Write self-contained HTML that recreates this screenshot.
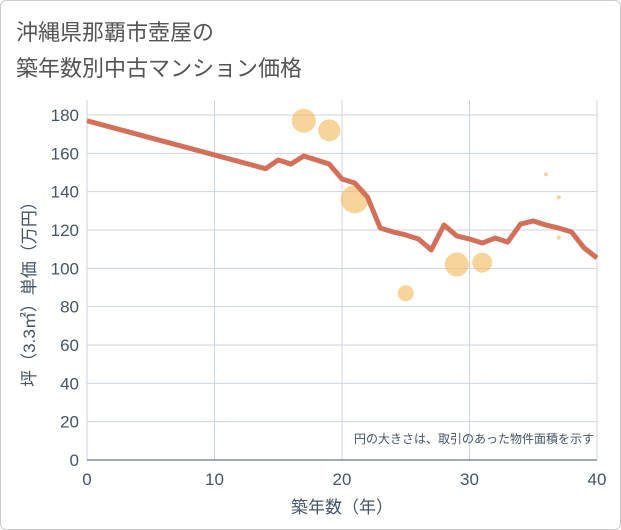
<!DOCTYPE html>
<html><head><meta charset="utf-8"><style>
body{margin:0;background:#fff;font-family:"Liberation Sans","Noto Sans CJK JP",sans-serif}
#wrap{position:relative;width:619px;height:528px;border:1px solid #ccc;border-radius:6px;overflow:hidden}
.title{position:absolute;left:15px;font-size:22px;color:#555}
</style></head><body>
<div id="wrap">
<div class="title" style="top:14px">沖縄県那覇市壺屋の</div>
<div class="title" style="top:50px">築年数別中古マンション価格</div>
<svg id="chart" width="621" height="530" style="position:absolute;left:-1px;top:-1px"></svg>
</div>
<script>
const lineYears=[0,14,15,16,17,18,19,20,21,22,23,24,25,26,27,28,29,30,31,32,33,34,35,36,37,38,39,40];
const linePrices=[177,152,156.5,154.4,158.6,156.5,154.4,146.6,144.5,137.2,121,119,117.4,115.3,109.6,122.6,116.9,115.3,113.2,115.8,113.7,123.1,124.7,122.6,121,119,110.6,105.4];
const bubbleYears=[17,19,21,25,29,31,36,37,37];
const bubblePrices=[177,172,136,87,102,103,149,137,116];
const bubbleSizes=[12,11,14,8,12,10,2,2,2];
const xTicks=[0,10,20,30,40];
const yTicks=[0,20,40,60,80,100,120,140,160,180];
const NS='http://www.w3.org/2000/svg';
const svg=document.getElementById('chart');
const X0=87,X1=597,Y0=460,Y1=115;
const xs=v=>X0+(v-0)/40*(X1-X0);
const ys=v=>Y0-(v/180)*(Y0-Y1);
function mk(t,a){const e=document.createElementNS(NS,t);for(const k in a)e.setAttribute(k,a[k]);svg.appendChild(e);return e;}
yTicks.forEach(v=>{
 const g=mk('line',{x1:X0,x2:X1,y1:ys(v),y2:ys(v),stroke:'#ccd6e0','stroke-width':1});
 
 
 const t=mk('text',{x:X0-8,y:ys(v)+6,'text-anchor':'end','font-size':17,fill:'#445566'});
 t.textContent=v;
 
 
});
xTicks.forEach(v=>{
 const g=mk('line',{x1:xs(v),x2:xs(v),y1:Y1-15,y2:Y0,stroke:'#ccd6e0','stroke-width':1});
 
 
 const t=mk('text',{x:xs(v),y:Y0+25,'text-anchor':'middle','font-size':17,fill:'#445566'});
 t.textContent=v;
 
 
});
const ax=mk('line',{x1:X0,x2:X1,y1:Y0,y2:Y0,stroke:'#445566','stroke-width':1});


bubbleYears.forEach((y,i)=>{
 const c=mk('circle',{cx:xs(y),cy:ys(bubblePrices[i]),r:bubbleSizes[i],fill:'#f2b856','fill-opacity':0.6});
 
 
});
const p=mk('polyline',{points:lineYears.map((y,i)=>xs(y)+','+ys(linePrices[i])).join(' '),fill:'none',stroke:'#d4705a','stroke-width':5,'stroke-linejoin':'round'});


const n=mk('text',{x:594,y:443,'text-anchor':'end','font-size':12,fill:'#445566'});
n.textContent='円の大きさは、取引のあった物件面積を示す';


const xt=mk('text',{x:342,y:513,'text-anchor':'middle','font-size':17,fill:'#445566'});
xt.textContent='築年数（年）';


const yt=mk('text',{x:0,y:0,'text-anchor':'middle','font-size':17,fill:'#445566',transform:'translate(35,290) rotate(-90)'});
yt.textContent='坪（3.3㎡）単価（万円）';


</script>
</body></html>
